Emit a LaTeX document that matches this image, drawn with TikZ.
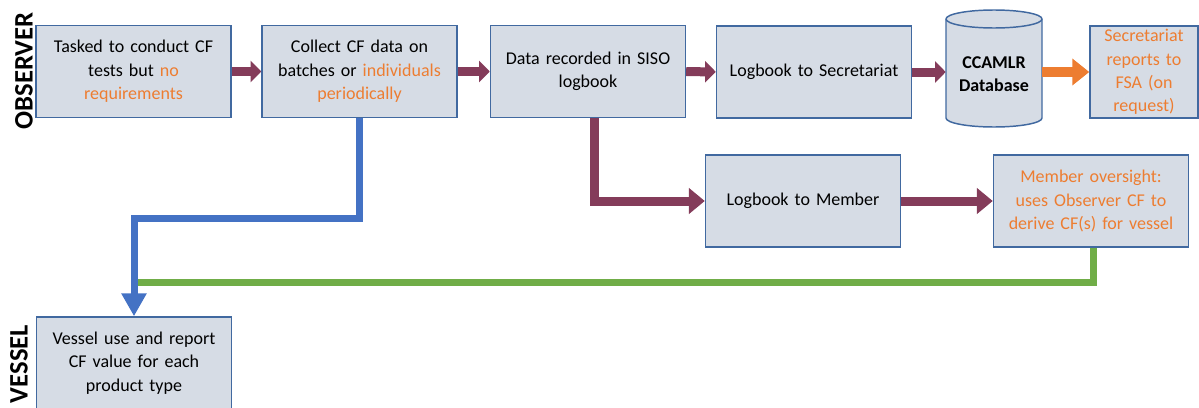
\documentclass[tikz,border=0pt]{standalone}
\usepackage{fontspec}
\setmainfont{Carlito}
\usetikzlibrary{arrows.meta}
\definecolor{boxfill}{RGB}{214,220,229}
\definecolor{boxline}{RGB}{65,105,160}
\definecolor{maroonc}{RGB}{132,60,90}
\definecolor{bluec}{RGB}{68,114,196}
\definecolor{greenc}{RGB}{112,173,71}
\definecolor{orangec}{RGB}{237,125,49}
\newcommand{\hl}[1]{\textcolor{orangec}{#1}}
\begin{document}
\begin{tikzpicture}[x=0.75pt,y=-0.75pt,
  box/.style={draw=boxline, line width=1.1pt, fill=boxfill, minimum width=146.25pt,
    minimum height=69pt, align=center, inner sep=0pt, text width=142pt,
    font=\fontsize{13.5}{17.5}\selectfont},
  narrowbox/.style={box, minimum width=81pt, text width=78pt},
  lane/.style={rotate=90, font=\bfseries\fontsize{20}{20}\selectfont, inner sep=0pt},
  marrow/.style={draw=maroonc, line width=6.75pt, -{Triangle[width=15.75pt,length=8pt]}},
  marrowbig/.style={draw=maroonc, line width=6.75pt, -{Triangle[width=19pt,length=12pt]}},
  oarrow/.style={draw=orangec, line width=7.5pt, -{Triangle[width=19.5pt,length=12.75pt]}},
  barrow/.style={draw=bluec, line width=5.25pt, -{Triangle[width=18pt,length=17.25pt]}},
  gline/.style={draw=greenc, line width=5.25pt},
  cyl/.style={draw=boxline, line width=1.1pt, fill=boxfill}
]
\useasboundingbox (0,0) rectangle (1199,407);

% lane labels
\node[lane] (obs) at (24,71) {OBSERVER};
\node[lane] (ves) at (19,364) {VESSEL};

% top row
\node[box] (b1) at (133.5,71.5) {Tasked to conduct CF\\tests but \hl{no}\\\hl{requirements}};
\node[box] (b2) at (359.5,71.5) {Collect CF data on\\batches or \hl{individuals}\\\hl{periodically}};
\node[box] (b3) at (588,71.5) {Data recorded in SISO\\logbook};
\node[box] (b4) at (814,72) {Logbook to Secretariat};

% database cylinder
\draw[cyl] (946,19) -- (946,118) arc[start angle=180,end angle=360,x radius=36pt,y radius=6.75pt]
  -- (1042,19) arc[start angle=0,end angle=180,x radius=36pt,y radius=6.75pt] -- cycle;
\draw[draw=boxline, line width=1.1pt] (946,19) arc[start angle=180,end angle=360,x radius=36pt,y radius=6.75pt];
\node[minimum width=72pt, minimum height=82pt, inner sep=0pt, align=center,
  font=\bfseries\fontsize{13.5}{17}\selectfont] (db) at (994,74) {CCAMLR\\Database};

\node[narrowbox] (b6) at (1144,72) {\hl{Secretariat}\\\hl{reports to}\\\hl{FSA (on}\\\hl{request)}};

% middle row
\node[box] (b7) at (803,201) {Logbook to Member};
\node[box] (b8) at (1091,201) {\hl{Member oversight:}\\\hl{uses Observer CF to}\\\hl{derive CF(s) for vessel}};

% vessel
\node[box] (b9) at (134,363) {Vessel use and report\\CF value for each\\product type};

% connectors
\draw[marrow] (b1) -- (b2);
\draw[marrow] (b2) -- (b3);
\draw[marrow] (b3) -- (b4);
\draw[marrow] (b4.east) -- (b4.east -| db.west);
\draw[oarrow] (db.east |- b6.west) -- (b6.west);
\draw[marrowbig] ([xshift=4.5pt]b3.south) |- (b7.west);
\draw[marrowbig] (b7) -- (b8);
\draw[barrow] (b2.south) -- (b2.south |- 0,218) -| (b9.north);
\coordinate (gend) at (138,282);
\draw[gline] ([xshift=1.5pt]b8.south) |- (gend);
\end{tikzpicture}
\end{document}
